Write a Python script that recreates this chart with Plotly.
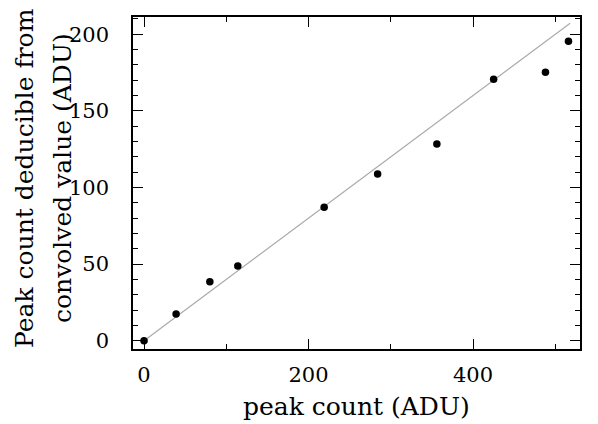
import plotly.graph_objects as go

peak_count = [0, 39, 80, 114, 219, 284, 356, 425, 488, 516]
deduced_peak = [0, 17.5, 38.5, 48.8, 87.1, 108.8, 128.4, 170.6, 175.2, 195.4]
line_x = [0, 518]
line_y = [0, 207.2]

FONT = "DejaVu Serif"

fig = go.Figure()
fig.add_trace(go.Scatter(x=line_x, y=line_y, mode="lines",
                         line=dict(color="#aaaaaa", width=1.2), showlegend=False))
fig.add_trace(go.Scatter(x=peak_count, y=deduced_peak, mode="markers",
                         marker=dict(color="black", size=7.5), showlegend=False))

# page body has an 8px margin; target screen geometry: plot box 133..580 x 17..349
OFF = 8
W, H = 598 - OFF, 424 - OFF
L = 133 - OFF
T = 17 - OFF
R = W - (580 - OFF)
B = H - (349 - OFF)
pw = W - L - R
ph = H - T - B


def px_x(sx):
    return (sx - 133) / pw


def px_y(sy):
    return (349 - sy) / ph


fig.update_layout(
    width=W, height=H,
    margin=dict(l=L, r=R, t=T, b=B, autoexpand=False),
    paper_bgcolor="white", plot_bgcolor="white",
    font=dict(family=FONT, size=21, color="black"),
)
fig.update_xaxes(
    range=[-13.4, 530], tickmode="linear", tick0=0, dtick=200,
    ticks="inside", ticklen=10, tickwidth=1.2, tickcolor="black",
    minor=dict(dtick=100, ticks="inside", ticklen=5, tickwidth=1.2, tickcolor="black"),
    showline=True, linecolor="black", linewidth=1.5, mirror="ticks",
    showgrid=False, zeroline=False,
    ticklabelstandoff=6,
    tickfont=dict(family=FONT, size=21),
)
fig.update_yaxes(
    range=[-5.4, 211.3], tickmode="linear", tick0=0, dtick=50,
    ticks="inside", ticklen=10, tickwidth=1.2, tickcolor="black",
    minor=dict(dtick=10, ticks="inside", ticklen=5, tickwidth=1.2, tickcolor="black"),
    showline=True, linecolor="black", linewidth=1.5, mirror="ticks",
    showgrid=False, zeroline=False,
    ticklabelstandoff=18,
    tickfont=dict(family=FONT, size=21),
)

yc = px_y(178)
fig.add_annotation(text="peak count (ADU)", xref="paper", yref="paper",
                   x=0.5, y=px_y(406), xanchor="center", yanchor="middle",
                   showarrow=False, font=dict(family=FONT, size=25))
fig.add_annotation(text="Peak count deducible from", xref="paper", yref="paper",
                   x=px_x(24), y=yc, xanchor="center", yanchor="middle",
                   textangle=-90, showarrow=False, font=dict(family=FONT, size=25))
fig.add_annotation(text="convolved value (ADU)", xref="paper", yref="paper",
                   x=px_x(62), y=yc, xanchor="center", yanchor="middle",
                   textangle=-90, showarrow=False, font=dict(family=FONT, size=25))

fig.write_html("out.html")
